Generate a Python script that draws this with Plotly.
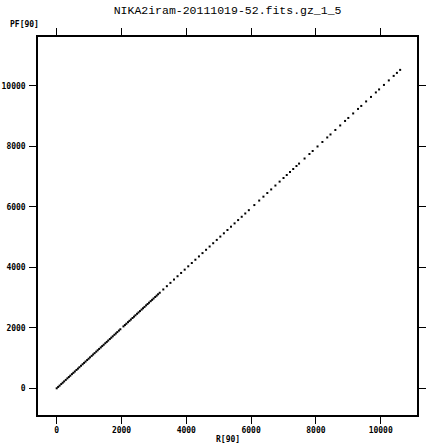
import plotly.graph_objects as go

title_text = "NIKA2iram-20111019-52.fits.gz_1_5"
x_label = "R[90]"
y_label = "PF[90]"
tick_vals = [0, 2000, 4000, 6000, 8000, 10000]
tick_text = ["0", "2000", "4000", "6000", "8000", "10000"]

r90 = [0, 45, 90, 140, 185, 230, 280, 330, 375, 420, 470, 515, 560, 610, 655, 700,
       750, 800, 845, 890, 940, 985, 1030, 1080, 1125, 1170, 1220, 1265, 1310, 1360,
       1405, 1450, 1500, 1545, 1590, 1640, 1685, 1730, 1780, 1825, 1870, 1920, 1965,
       2060, 2105, 2150, 2200, 2245, 2290, 2340, 2385, 2430, 2480, 2525, 2570,
       2620, 2665, 2710, 2760, 2805, 2850, 2900, 2945, 2990, 3040, 3085, 3130, 3180,
       3290, 3400, 3510, 3620, 3730, 3840, 3950, 4060, 4170, 4280, 4390, 4500, 4610,
       4720, 4830, 4940, 5050, 5160, 5270, 5380, 5490, 5600, 5710, 5820, 5930, 6100,
       6250, 6380, 6500, 6620, 6750, 6880, 7000, 7100, 7200, 7300, 7400, 7480,
       7650, 7800, 7900, 8050, 8200, 8350, 8450, 8600, 8750, 8900, 9000, 9150, 9300,
       9400, 9550, 9700, 9850, 9950, 10100, 10250, 10400, 10500, 10600]
pf90 = [0, 45, 89, 139, 184, 228, 278, 328, 372, 417, 467, 511, 556, 606, 650, 695,
        745, 794, 839, 884, 933, 978, 1023, 1072, 1117, 1162, 1211, 1256, 1301, 1350,
        1395, 1440, 1489, 1534, 1579, 1628, 1673, 1718, 1768, 1812, 1857, 1907, 1951,
        2046, 2090, 2135, 2185, 2229, 2274, 2324, 2368, 2413, 2463, 2507, 2552,
        2602, 2646, 2691, 2741, 2785, 2830, 2880, 2924, 2969, 3019, 3063, 3108, 3158,
        3267, 3376, 3485, 3595, 3704, 3813, 3922, 4032, 4141, 4250, 4359, 4469, 4578,
        4687, 4796, 4905, 5015, 5124, 5233, 5342, 5452, 5561, 5670, 5779, 5888, 6057,
        6206, 6335, 6455, 6574, 6703, 6832, 6951, 7050, 7150, 7249, 7348, 7428,
        7596, 7745, 7845, 7994, 8143, 8292, 8391, 8540, 8689, 8838, 8937, 9086, 9235,
        9334, 9483, 9632, 9781, 9880, 10029, 10178, 10327, 10427, 10526]

fig = go.Figure()
fig.add_trace(go.Scatter(x=r90, y=pf90, mode="markers",
                         marker=dict(color="black", size=2, symbol="square",
                                     line=dict(width=0)),
                         showlegend=False, hoverinfo="x+y"))

tickfont = dict(family="DejaVu Sans Mono", size=8, color="black", weight="bold")
axis_common = dict(showgrid=False, zeroline=False, showline=True, linecolor="black",
                   linewidth=1.5, mirror="ticks", ticks="outside", ticklen=7,
                   tickwidth=1, tickcolor="black", tickvals=tick_vals,
                   ticktext=tick_text, tickfont=tickfont, automargin=False)

fig.update_layout(
    width=427, height=446,
    margin=dict(l=38, r=10, t=37, b=31, autoexpand=False),
    paper_bgcolor="white", plot_bgcolor="white",
    title=dict(text=title_text, x=0.533, xanchor="center", y=0.977, yanchor="middle",
               font=dict(family="Liberation Mono", size=11.5, color="black")),
    xaxis=dict(range=[-577, 11120], **axis_common),
    yaxis=dict(range=[-883, 11613], ticklabelstandoff=2, **axis_common),
    annotations=[
        dict(text=y_label, xref="paper", yref="paper", x=-0.079, y=1.032,
             xanchor="left", yanchor="middle", showarrow=False,
             font=dict(family="DejaVu Sans Mono", size=8, color="black", weight="bold")),
        dict(text=x_label, xref="paper", yref="paper", x=0.5, y=-0.066,
             xanchor="center", yanchor="middle", showarrow=False,
             font=dict(family="DejaVu Sans Mono", size=8, color="black", weight="bold")),
    ],
)

fig.write_html("out.html", config={"displayModeBar": False},
               post_script="document.body.style.margin='0px';")
